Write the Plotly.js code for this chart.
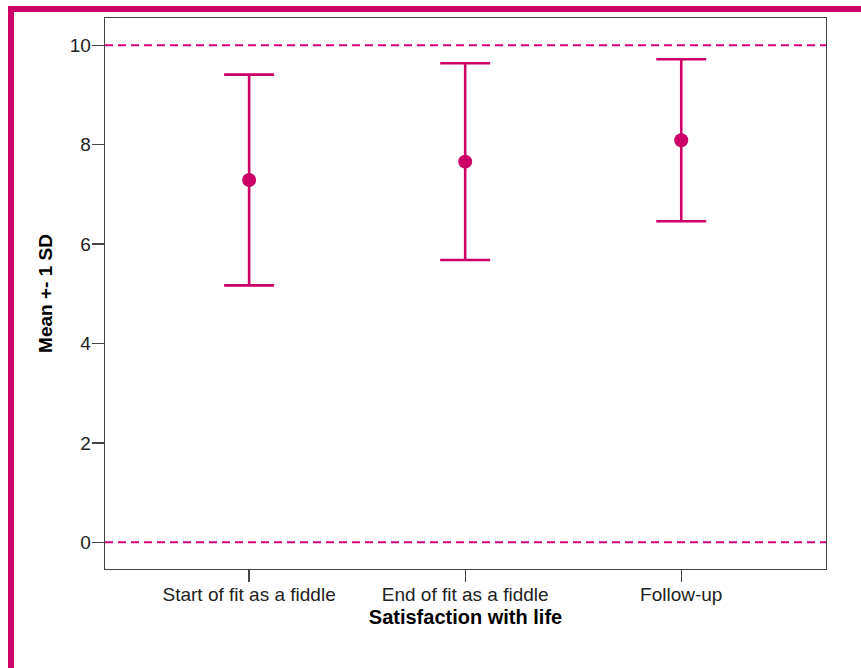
<!DOCTYPE html>
<html>
<head>
<meta charset="utf-8">
<script src="https://cdn.plot.ly/plotly-3.0.1.min.js"></script>
<style>html,body{margin:0;padding:0;background:#fff;}#chart{width:861px;height:668px;}</style>
</head>
<body>
<div id="chart"></div>
<script>
var categories = ['Start of fit as a fiddle', 'End of fit as a fiddle', 'Follow-up'];
var means = [7.29, 7.66, 8.09];
var sds = [2.12, 1.98, 1.63];
var refLines = [0, 10];
var yTicks = [0, 2, 4, 6, 8, 10];

var W = 861, H = 668;
var M = {l: 105, r: 35, t: 18, b: 99};
var pw = W - M.l - M.r, ph = H - M.t - M.b;
function px(x) { return (x - M.l) / pw; }
function py(y) { return 1 - (y - M.t) / ph; }

var col = '#cc0066';
var trace = {
  type: 'scatter',
  mode: 'markers',
  x: [0, 1, 2],
  y: means,
  marker: {color: col, size: 14},
  error_y: {type: 'data', array: sds, visible: true, color: col, thickness: 2.6, width: 25},
  hoverinfo: 'skip',
  showlegend: false,
  cliponaxis: false
};

var shapes = refLines.map(function (v) {
  return {type: 'line', xref: 'paper', yref: 'y', x0: 0, x1: 1, y0: v, y1: v,
    line: {color: '#d4007a', width: 2, dash: '8px,5px'}, layer: 'above'};
});
// decorative magenta frame
shapes.push({type: 'rect', xref: 'paper', yref: 'paper', x0: px(8), x1: px(14), y0: py(668), y1: py(6),
  fillcolor: col, line: {width: 0}});
shapes.push({type: 'rect', xref: 'paper', yref: 'paper', x0: px(8), x1: px(861), y0: py(12), y1: py(6),
  fillcolor: col, line: {width: 0}});

var layout = {
  width: W, height: H,
  margin: M,
  paper_bgcolor: '#fff', plot_bgcolor: '#fff',
  font: {family: 'Liberation Sans, Arial, sans-serif', color: '#222'},
  xaxis: {
    range: [-0.667, 2.67],
    tickmode: 'array', tickvals: [0, 1, 2], ticktext: categories,
    showgrid: false, zeroline: false,
    showline: true, linecolor: '#444', linewidth: 1.3, mirror: true,
    ticks: 'outside', ticklen: 12, tickcolor: '#444', tickwidth: 1.3,
    tickfont: {size: 19, color: '#222'},
    ticklabelstandoff: -4,
    title: {text: 'Satisfaction with life', font: {size: 20, color: '#000', family: 'Liberation Sans, Arial, sans-serif', weight: 'bold'}, standoff: 6}
  },
  yaxis: {
    range: [-0.537, 10.55],
    tickmode: 'array', tickvals: yTicks,
    showgrid: false, zeroline: false,
    showline: true, linecolor: '#444', linewidth: 1.3, mirror: true,
    ticks: 'outside', ticklen: 12, tickcolor: '#444', tickwidth: 1.3,
    tickfont: {size: 19, color: '#222'},
    ticklabelstandoff: -3,
    title: {text: 'Mean +- 1 SD', font: {size: 19, color: '#000', family: 'Liberation Sans, Arial, sans-serif', weight: 'bold'}, standoff: 12}
  },
  shapes: shapes
};

Plotly.newPlot('chart', [trace], layout, {displayModeBar: false, staticPlot: true});
</script>
</body>
</html>
